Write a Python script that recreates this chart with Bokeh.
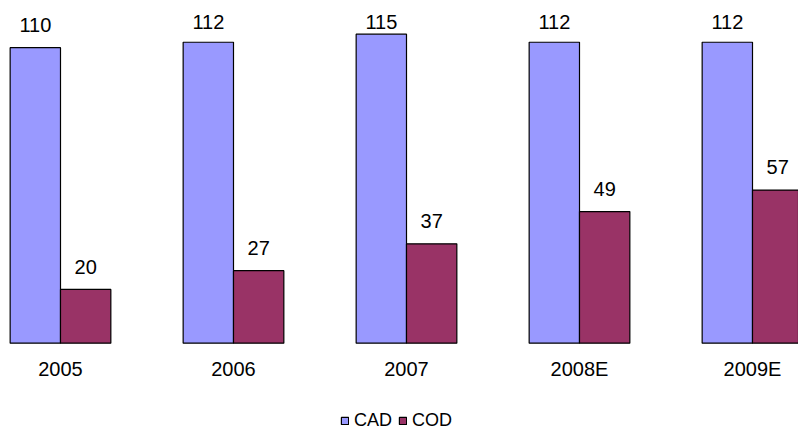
from bokeh.plotting import figure
from bokeh.models import Range1d, FixedTicker, ColumnDataSource, Legend, LegendItem
from bokeh.core.properties import value
from bokeh.embed import file_html
from bokeh.resources import INLINE
import numpy as np

# Data
years = ["2005", "2006", "2007", "2008E", "2009E"]
cad = [110, 112, 115, 112, 112]
cod = [20, 27, 37, 49, 57]

CAD_COLOR = "#9999FF"
COD_COLOR = "#993366"
FONT = "Liberation Sans"

x = np.arange(len(years))
bar_w = 0.291
half = bar_w / 2

# value labels sit a fixed step above each bar, capped below the top edge
label_gap = 8.4
label_cap = 119.7

src_cad = ColumnDataSource(dict(
    x=x - half, top=cad, ly=np.minimum(np.array(cad) + label_gap, label_cap),
    txt=[str(v) for v in cad]))
src_cod = ColumnDataSource(dict(
    x=x + half, top=cod, ly=np.minimum(np.array(cod) + label_gap, label_cap),
    txt=[str(v) for v in cod]))

# the frame fills the whole canvas; the space under the baseline holds
# the category labels and the legend
p = figure(width=798, height=431, output_backend="svg", toolbar_location=None,
           x_range=Range1d(-0.3468, 4.2659), y_range=Range1d(-32.86, 127.54),
           y_axis_location=None, x_axis_location="below",
           min_border_left=0, min_border_right=0, min_border_top=0,
           min_border_bottom=0)
p.outline_line_color = None
p.grid.visible = False
p.background_fill_color = "white"
p.border_fill_color = "white"

r_cad = p.vbar(x="x", top="top", bottom=0, width=bar_w, source=src_cad,
               fill_color=CAD_COLOR, line_color="black", line_width=1.2)
r_cod = p.vbar(x="x", top="top", bottom=0, width=bar_w, source=src_cod,
               fill_color=COD_COLOR, line_color="black", line_width=1.2)

for s in (src_cad, src_cod):
    p.text(x="x", y="ly", text="txt", source=s, text_font=value(FONT),
           text_font_size="20px", text_align="center",
           text_baseline="middle", text_color="black")

# category axis pinned to the baseline
ax = p.xaxis[0]
ax.fixed_location = 0
ax.ticker = FixedTicker(ticks=list(x))
ax.major_label_overrides = {int(i): y for i, y in zip(x, years)}
ax.axis_line_color = None
ax.major_tick_line_color = None
ax.minor_tick_line_color = None
ax.major_tick_out = 0
ax.major_tick_in = 0
ax.major_label_standoff = 15
ax.major_label_text_font = FONT
ax.major_label_text_font_size = "20px"
ax.major_label_text_color = "black"

legend = Legend(items=[LegendItem(label="CAD", renderers=[r_cad]),
                       LegendItem(label="COD", renderers=[r_cod])],
                orientation="horizontal", location=(340, 0),
                padding=0, margin=0, spacing=6, label_standoff=5,
                glyph_width=9, glyph_height=9, label_height=18,
                label_text_font=FONT, label_text_font_size="18px",
                label_text_color="black",
                background_fill_alpha=0, border_line_color=None)
p.add_layout(legend, "center")

open("out.html", "w").write(file_html(p, INLINE))
